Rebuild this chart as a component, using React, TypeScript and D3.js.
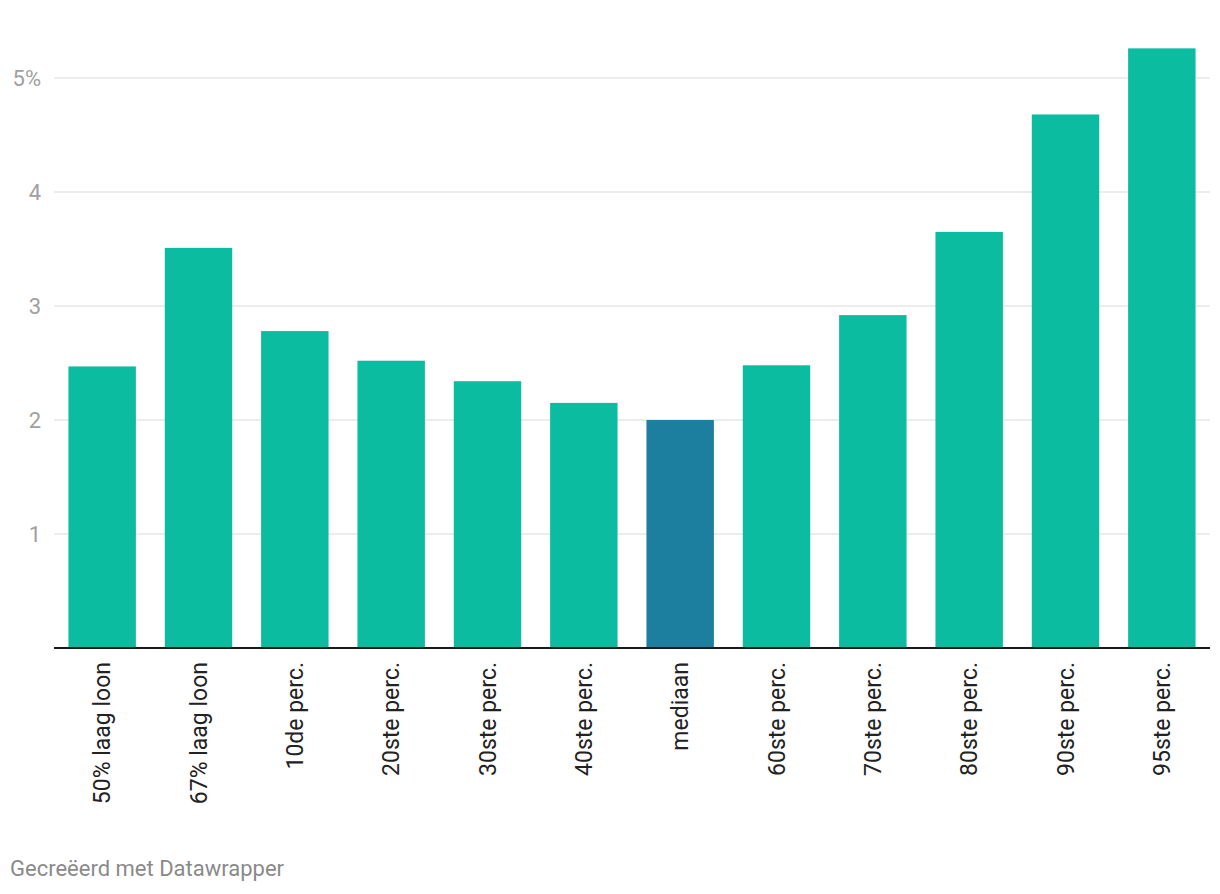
import React from "react";
import * as d3 from "d3";

const categories = [
  "50% laag loon",
  "67% laag loon",
  "10de perc.",
  "20ste perc.",
  "30ste perc.",
  "40ste perc.",
  "mediaan",
  "60ste perc.",
  "70ste perc.",
  "80ste perc.",
  "90ste perc.",
  "95ste perc.",
];
const values = [2.47, 3.51, 2.78, 2.52, 2.34, 2.15, 2.0, 2.48, 2.92, 3.65, 4.68, 5.26];
const highlighted = ["mediaan"];
const yTicks = [1, 2, 3, 4, 5];
const footer = "Gecreëerd met Datawrapper";

const W = 1220;
const H = 894;
const left = 54;
const right = 1210;
const baseline = 648;

export default function App() {
  const x = d3.scaleBand<string>().domain(categories).range([left, right]).paddingInner(0.3).paddingOuter(0.15);
  const y = d3.scaleLinear().domain([0, 5]).range([baseline, 78]);
  const font = "Roboto, 'Noto Sans', sans-serif";
  return (
    <svg
      width={W}
      height={H}
      style={{ position: "absolute", left: 0, top: 0, display: "block", background: "#fff" }}
      fontFamily={font}
    >
      {yTicks.map((t) => (
        <g key={t}>
          <line x1={left} x2={right} y1={y(t)} y2={y(t)} stroke="#e6e6e6" strokeWidth={1.5} />
          <text x={41} y={y(t)} dy="0.35em" textAnchor="end" fontSize={22} fill="#a0a0a0">
            {t === 5 ? "5%" : String(t)}
          </text>
        </g>
      ))}
      {categories.map((c, i) => (
        <rect
          key={c}
          x={x(c)}
          width={x.bandwidth()}
          y={y(values[i])}
          height={baseline - y(values[i])}
          fill={highlighted.includes(c) ? "#1d7f9f" : "#0bbca0"}
        />
      ))}
      <line x1={left} x2={right} y1={baseline} y2={baseline} stroke="#1a1a1a" strokeWidth={2} />
      {categories.map((c) => {
        const cx = (x(c) as number) + x.bandwidth() / 2;
        return (
          <text
            key={c}
            transform={`translate(${cx},${baseline + 14}) rotate(-90)`}
            textAnchor="end"
            dy="0.35em"
            fontSize={23}
            fill="#222"
          >
            {c}
          </text>
        );
      })}
      <text x={10} y={876} fontSize={22} fill="#8a8a8a">
        {footer}
      </text>
    </svg>
  );
}
